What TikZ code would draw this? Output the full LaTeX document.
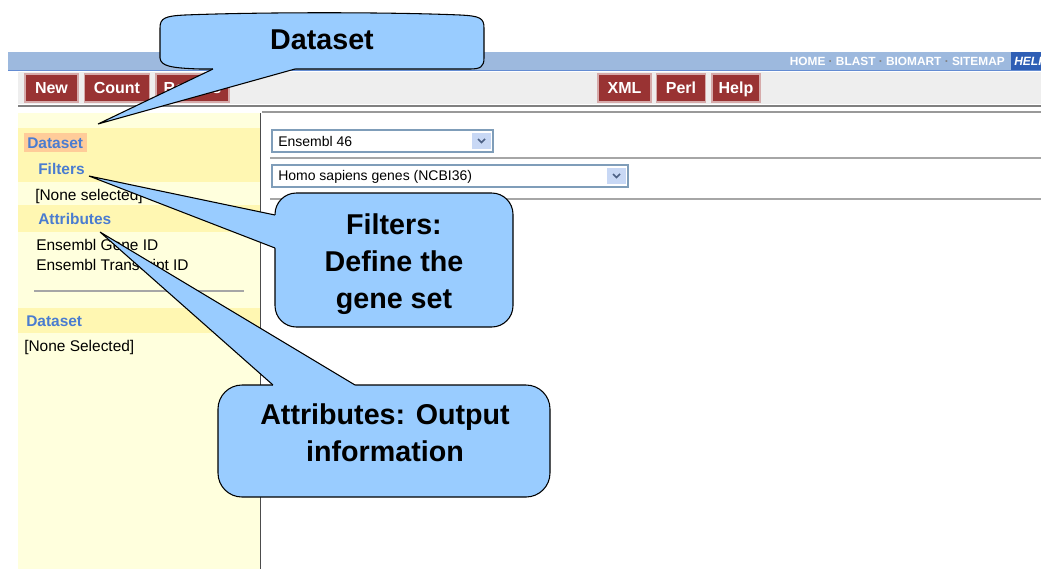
\documentclass[tikz,border=0pt]{standalone}
\usepackage{fontspec}
\setmainfont{Liberation Sans}
\usepackage{tikz}
\usetikzlibrary{positioning}

\definecolor{barblue}{RGB}{157,185,222}
\definecolor{barline}{RGB}{100,140,210}
\definecolor{helpblue}{RGB}{46,94,181}
\definecolor{toolgray}{RGB}{238,238,238}
\definecolor{btnred}{RGB}{153,51,51}
\definecolor{btnedge}{RGB}{214,170,170}
\definecolor{panelyellow}{RGB}{255,255,221}
\definecolor{bandyellow}{RGB}{255,247,178}
\definecolor{markorange}{RGB}{255,204,153}
\definecolor{linkblue}{RGB}{74,124,208}
\definecolor{boxedge}{RGB}{127,157,185}
\definecolor{arrowbox}{RGB}{200,216,245}
\definecolor{chevron}{RGB}{77,97,133}
\definecolor{balloon}{RGB}{153,204,255}

\tikzset{
  btn/.style={fill=btnred, draw=btnedge, line width=1.1pt, text=white, font=\bfseries\fontsize{12}{14}\selectfont, minimum height=21pt, inner sep=0pt, text height=8.8pt, text depth=0pt},
  lbl/.style={anchor=west, inner sep=0pt, font=\fontsize{11.6}{13}\selectfont},
  sect/.style={lbl, text=linkblue, font=\bfseries\fontsize{11.6}{13}\selectfont},
  droptext/.style={anchor=west, inner sep=0pt, font=\fontsize{10.5}{12}\selectfont},
  balloonshape/.style={fill=balloon, draw=black, line width=0.8pt},
  balloontext/.style={align=center, font=\bfseries\fontsize{21.5}{27.5}\selectfont},
}

\begin{document}
\begin{tikzpicture}[x=0.75pt,y=0.75pt,yscale=-1,xscale=1]
\useasboundingbox (0,0) rectangle (1041,569);

%Shape: Top bar
\fill[barblue] (8,52) rectangle (1041,70);
\draw[barline, line width=1pt] (8,70.5) -- (1041,70.5);
\fill[helpblue] (1011,52) rectangle (1041,70);
% Text Node
\node[anchor=east, inner sep=0pt, text=white, font=\bfseries\fontsize{8.9}{10}\selectfont] (links) at (1005,61) {HOME \textcolor{gray}{·} BLAST \textcolor{gray}{·} BIOMART \textcolor{gray}{·} SITEMAP};
\node[anchor=west, inner sep=0pt, text=white, font=\bfseries\itshape\fontsize{9}{10}\selectfont] (help) at (1014,61) {HELP};

%Shape: Toolbar
\fill[toolgray] (18,72) rectangle (1041,104);
\node[btn, minimum width=39.75pt] (bnew) at (51.5,88) {New};
\node[btn, minimum width=48.75pt, right=3.75pt of bnew] (bcount) {Count};
\node[btn, minimum width=54.75pt, right=3.75pt of bcount] (bresults) {Results};
\node[btn, minimum width=39.75pt] (bxml) at (624.5,88) {XML};
\node[btn, minimum width=36.75pt, right=3pt of bxml] (bperl) {Perl};
\node[btn, minimum width=36pt, right=3.75pt of bperl] (bhelp) {Help};
\draw[gray, line width=1.5pt] (18,106) -- (1041,106);
\draw[gray!80, line width=0.8pt] (262,112) -- (1041,112);

%Shape: Left panel
\fill[panelyellow] (18,113) rectangle (260,569);
\fill[bandyellow] (18,128) rectangle (260,182);
\fill[bandyellow] (18,205) rectangle (260,232);
\fill[bandyellow] (18,308) rectangle (260,333);
\fill[markorange] (24,133) rectangle (87,152);
\draw[gray!70, line width=0.8pt] (34,291) -- (244,291);
\draw[black!70, line width=1.2pt] (260.5,113) -- (260.5,569);

% Text Node
\node[sect] (lds) at (27,143) {Dataset};
\node[sect] (lfilters) at (38,169) {Filters};
\node[lbl] (lnone) at (35,196) {[None selected]};
\node[sect] (lattr) at (38,219) {Attributes};
\node[lbl] (lgene) at (36,245) {Ensembl Gene ID};
\node[lbl] (ltrans) at (36,266) {Ensembl Transcript ID};
\node[sect] (lds2) at (26,321) {Dataset};
\node[lbl] (lnone2) at (24,347) {[None Selected]};

%Shape: Dropdowns
\draw[boxedge, fill=white, line width=0.8pt] (272,130) rectangle (493,152);
\fill[arrowbox] (472,133) rectangle (491,149);
\draw[chevron, line width=1.2pt] (478,139) -- (481.5,142.5) -- (485,139);
\node[droptext] (drel) at (278,141.5) {Ensembl 46};
\draw[gray!70, line width=0.8pt] (270,158) -- (1041,158);
\draw[boxedge, fill=white, line width=0.8pt] (272,165) rectangle (628,187);
\fill[arrowbox] (607,168) rectangle (626,184);
\draw[chevron, line width=1.2pt] (613,174) -- (616.5,177.5) -- (620,174);
\node[droptext] (drsp) at (278,176.5) {Homo sapiens genes (NCBI36)};
\draw[gray!70, line width=0.8pt] (270,199) -- (1041,199);

%Shape: Callout Dataset
\draw[balloonshape] (160,28) .. controls (160,18) and (165,16) .. (185,15) .. controls (260,12) and (390,12) .. (460,15) .. controls (480,16) and (484,18) .. (484,28) -- (484,58) .. controls (484,67) and (480,69) .. (470,69) -- (200,69) .. controls (170,68) and (161,66) .. (160,58) -- cycle;
\coordinate (dstip) at (98,124);
\coordinate (dsbaseA) at (213,69);
\coordinate (dsbaseB) at (295,69);
\fill[balloon] (dstip) -- (dsbaseA) -- (213,63) -- (295,63) -- (dsbaseB) -- cycle;
\draw[line width=0.8pt] (dsbaseA) -- (dstip) -- (dsbaseB);
\node[balloontext] (cds) at (322,40) {Dataset};

%Shape: Callout Filters
\draw[balloonshape, rounded corners=16pt] (275,193) rectangle (513,327);
\coordinate (fltip) at (89,176);
\coordinate (flbaseA) at (275,215);
\coordinate (flbaseB) at (275,248);
\fill[balloon] (fltip) -- (flbaseA) -- (281,215) -- (281,248) -- (flbaseB) -- cycle;
\draw[line width=0.8pt] (flbaseA) -- (fltip) -- (flbaseB);
\node[balloontext] (cfl) at (394,264) {Filters:\\Define the\\gene set};

%Shape: Callout Attributes
\draw[balloonshape, rounded corners=18pt] (218,385) rectangle (550,497);
\coordinate (attip) at (100,232);
\coordinate (atbaseA) at (273,385);
\coordinate (atbaseB) at (355,385);
\fill[balloon] (attip) -- (atbaseA) -- (273,391) -- (355,391) -- (atbaseB) -- cycle;
\draw[line width=0.8pt] (atbaseA) -- (attip) -- (atbaseB);
\node[balloontext] (cat) at (385,433) {Attributes: Output\\information};

\end{tikzpicture}
\end{document}
